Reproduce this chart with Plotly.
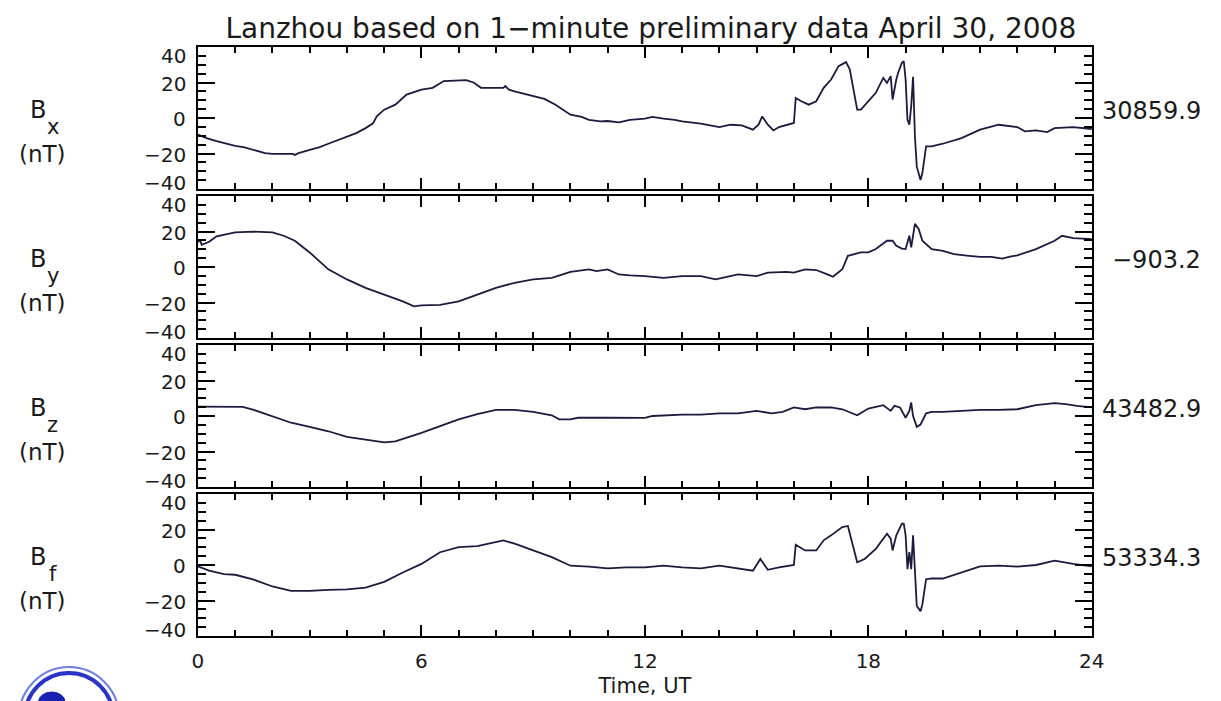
import plotly.graph_objects as go

# ---------------- data ----------------
title_text = "Lanzhou based on 1\u2212minute preliminary data April 30, 2008"
panel_names = ["x", "y", "z", "f"]
baseline_values = ["30859.9", "\u2212903.2", "43482.9", "53334.3"]
x_tick_vals = [0, 6, 12, 18, 24]
x_tick_text = ["0", "6", "12", "18", "24"]
y_tick_vals = [40, 20, 0, -20, -40]
y_tick_text = ["40", "20", "0", "\u221220", "\u221240"]

t_bx = [0, 0.25, 0.5, 0.75, 1, 1.25, 1.5, 1.8, 2, 2.3, 2.55, 2.6, 2.7, 3, 3.25, 3.5, 3.75,
        4, 4.25, 4.5, 4.7, 4.8, 5, 5.3, 5.6, 6, 6.3, 6.6, 7, 7.2, 7.4, 7.6, 8, 8.2, 8.25,
        8.35, 8.5, 9, 9.3, 9.6, 10, 10.3, 10.5, 10.8, 11, 11.3, 11.6, 12, 12.2, 12.5, 12.8,
        13, 13.5, 14, 14.3, 14.6, 14.9, 15.05, 15.15, 15.3, 15.45, 15.6, 15.8, 16, 16.05,
        16.2, 16.4, 16.6, 16.8, 17, 17.2, 17.4, 17.5, 17.6, 17.7, 17.8, 18, 18.2, 18.4, 18.5,
        18.6, 18.65, 18.75, 18.8, 18.9, 18.95, 19.0, 19.05, 19.1, 19.15, 19.2, 19.25, 19.3,
        19.4, 19.45, 19.55, 19.7, 20, 20.5, 21, 21.5, 22, 22.2, 22.5, 22.8, 23, 23.5, 24]
bx = [-9.4, -11.5, -13, -14.5, -15.7, -16.5, -18, -19.8, -20.2, -20.2, -20.2, -20.8, -19.8,
      -18, -16.5, -14.5, -12.5, -10.4, -8.5, -5.7, -3, 1, 4.7, 7.5, 13.2, 16, 17, 20.8, 21,
      21.3, 20, 17, 17, 17, 18, 16, 15, 12.3, 10.8, 7.5, 1.9, 0.6, -1, -1.9, -1.7, -2.5, -1,
      -0.4, 0.6, -0.4, -1, -1.9, -3.2, -5.1, -3.8, -4.2, -6.6, -3.8, 0.9, -3.8, -7, -5.1, -4,
      -2.8, 11.3, 9.4, 7.5, 9.4, 17, 21.7, 29.2, 31.5, 27.4, 16, 4.7, 4.7, 9.4, 14.2, 22.6,
      19.8, 23.6, 10.4, 21.7, 25.5, 31.1, 32, 21.7, -1, -3.8, 6.6, 23.2, -10.4, -27.4, -34.9,
      -31, -16, -16, -14.5, -11.3, -6.6, -3.8, -5.1, -7.5, -7, -7.9, -5.7, -5.1, -6.2]

t_by = [0, 0.05, 0.1, 0.3, 0.5, 1, 1.5, 2, 2.3, 2.6, 3, 3.5, 4, 4.5, 5, 5.5, 5.8, 6, 6.5,
        7, 7.5, 8, 8.5, 9, 9.5, 10, 10.5, 10.7, 11, 11.3, 11.6, 12, 12.5, 13, 13.5, 13.9,
        14.2, 14.5, 15, 15.3, 15.8, 16, 16.3, 16.6, 16.9, 17.05, 17.3, 17.45, 17.8, 18,
        18.2, 18.5, 18.65, 18.75, 18.9, 19.0, 19.1, 19.15, 19.25, 19.35, 19.45, 19.7, 20,
        20.3, 20.7, 21, 21.3, 21.6, 21.8, 22, 22.5, 23, 23.2, 23.5, 24]
by = [13.9, 15.5, 12.5, 14.2, 17.3, 19.5, 19.9, 19.5, 17.6, 14.8, 8.2, -1.3, -7, -11.8,
      -15.6, -19.4, -22.2, -21.6, -21.3, -19.4, -15.6, -11.8, -8.9, -7, -6.1, -2.7, -1.3,
      -2.3, -1.3, -4.2, -4.7, -5.1, -6.1, -5.1, -5.1, -7, -5.5, -4.2, -5.1, -3.2, -2.7,
      -3.2, -1.3, -1.7, -4.2, -5.5, -1.3, 6.3, 8.2, 8.2, 10.1, 14.8, 14.8, 12, 10.4, 10.1,
      17.6, 11, 24.3, 21.4, 14.8, 10.1, 9.1, 7.2, 6.3, 5.7, 5.7, 4.7, 5.9, 6.6, 10.1, 14.8,
      17.6, 16.3, 15.7]

t_bz = [0, 1, 1.2, 1.5, 2, 2.5, 3, 3.5, 4, 4.5, 5, 5.3, 5.6, 6, 6.5, 7, 7.5, 8, 8.5, 9,
        9.5, 9.7, 10, 10.2, 11, 12, 12.2, 13, 13.5, 14, 14.5, 15, 15.4, 15.7, 16.0, 16.3,
        16.6, 17, 17.3, 17.7, 18, 18.4, 18.6, 18.7, 18.85, 19.0, 19.1, 19.15, 19.2, 19.3,
        19.4, 19.55, 19.7, 20, 20.5, 21, 21.5, 22, 22.5, 23, 23.3, 23.6, 24]
bz = [5.3, 5.3, 5.1, 3.4, -0.4, -3.8, -6.1, -8.6, -11.8, -13.3, -14.9, -14.3, -12.4, -9.5,
      -5.7, -1.9, 1, 3.4, 3.4, 2.3, 0.4, -1.9, -1.9, -1, -1, -1.1, 0, 0.8, 0.8, 1.5, 1.5,
      2.9, 1.5, 2.3, 4.8, 3.8, 4.8, 4.8, 3.8, 0.4, 4.2, 6.1, 2.9, 5.7, 4.8, -1, 2.9, 7.6, 0,
      -6.1, -4.8, 1.5, 2.3, 2.3, 2.9, 3.4, 3.4, 3.8, 6.1, 7.2, 6.7, 5.7, 4.8]

t_bf = [0, 0.3, 0.7, 1, 1.5, 2, 2.5, 3, 3.5, 4, 4.5, 5, 5.5, 6, 6.5, 7, 7.5, 8, 8.2, 8.5,
        9, 9.5, 10, 10.5, 11, 11.5, 12, 12.5, 13, 13.5, 14, 14.5, 14.9, 15.1, 15.3, 15.6,
        16, 16.05, 16.3, 16.6, 16.8, 17, 17.3, 17.45, 17.6, 17.7, 17.9, 18.2, 18.5, 18.6,
        18.65, 18.75, 18.9, 18.95, 19.0, 19.05, 19.1, 19.15, 19.2, 19.25, 19.3, 19.4, 19.45,
        19.55, 19.7, 20, 20.5, 21, 21.5, 22, 22.5, 23, 23.5, 24]
bf = [-0.8, -3.2, -5.1, -5.5, -8.3, -12.1, -14.6, -14.6, -14, -13.7, -12.7, -9.5, -4.2, 0.6,
      7.2, 10.1, 10.6, 12.9, 13.9, 12, 8.2, 4.4, -0.4, -0.9, -1.9, -1.3, -1.3, -0.4, -1.3,
      -1.9, -0.4, -1.9, -3.2, 3.4, -2.7, -1.3, 0, 11.4, 8.2, 8.2, 13.9, 16.7, 21.4, 22, 10.1,
      1.5, 3.4, 9.1, 17.6, 14.8, 8.2, 16.7, 23.3, 23.3, 16.7, -2.3, 7.2, -2.3, 16.7, -8,
      -23.1, -26, -22.2, -8, -7.6, -7.6, -4.2, -0.8, -0.4, -0.9, 0, 2.5, 0.6, -0.8]

series_t = [t_bx, t_by, t_bz, t_bf]
series_v = [bx, by, bz, bf]

# ---------------- layout geometry ----------------
W, H = 1221, 701
x_left, x_right = 195, 1103
panel_pix = [(47, 189), (196, 338), (345, 487), (494, 636)]

FONT = "DejaVu Sans"
TXT = "#1a1a1a"
LINE = "#1b1b3e"

fig = go.Figure()
layout = dict(
    width=W, height=H, autosize=False,
    margin=dict(l=0, r=0, t=0, b=0),
    paper_bgcolor="white", plot_bgcolor="white",
    showlegend=False,
    font=dict(family=FONT, color=TXT),
)

annotations = []
for i in range(4):
    n = "" if i == 0 else str(i + 1)
    top, bot = panel_pix[i]
    fig.add_trace(go.Scatter(
        x=series_t[i], y=series_v[i], mode="lines",
        line=dict(color=LINE, width=1.8),
        xaxis="x" + n, yaxis="y" + n, hoverinfo="skip",
    ))
    layout["xaxis" + n] = dict(
        domain=[x_left / W, x_right / W], anchor="y" + n,
        range=[0, 24], showgrid=False, zeroline=False,
        showline=True, linecolor="black", linewidth=2, mirror="allticks",
        ticks="inside", tickmode="array", tickvals=[0, 6, 12, 18, 24],
        ticklen=11, tickwidth=1.5, tickcolor="black",
        minor=dict(dtick=1, tick0=0, ticks="inside", ticklen=6, tickwidth=1.5,
                   tickcolor="black", showgrid=False),
        showticklabels=(i == 3), fixedrange=True,
    )
    layout["yaxis" + n] = dict(
        domain=[1 - bot / H, 1 - top / H], anchor="x" + n,
        range=[-40, 40], showgrid=False, zeroline=False,
        showline=True, linecolor="black", linewidth=2, mirror="allticks",
        ticks="inside", tickmode="array", tickvals=[-40, -20, 0, 20, 40],
        ticklen=17, tickwidth=1.5, tickcolor="black",
        minor=dict(dtick=5, tick0=0, ticks="inside", ticklen=8, tickwidth=1.5,
                   tickcolor="black", showgrid=False),
        showticklabels=False, fixedrange=True,
    )
    # y tick labels (edge labels nudged inward as in the reference)
    for v, txt in zip(y_tick_vals, y_tick_text):
        shift = -9 if v == 40 else (6 if v == -40 else -1)
        annotations.append(dict(
            x=185 / W, xref="paper", xanchor="right",
            y=v, yref="y" + n, yanchor="middle", yshift=shift,
            text=txt, showarrow=False, font=dict(size=20, family=FONT, color=TXT),
        ))
    # left component label: "B" with a large, low subscript letter
    annotations.append(dict(
        x=32 / W, xref="paper", xanchor="center",
        y=0.5, yref="y" + n + " domain", yanchor="middle", yshift=8,
        text="B", showarrow=False,
        font=dict(size=24, family=FONT, color=TXT),
    ))
    annotations.append(dict(
        x=47.5 / W, xref="paper", xanchor="center",
        y=0.5, yref="y" + n + " domain", yanchor="middle", yshift=-9,
        text=panel_names[i], showarrow=False,
        font=dict(size=21, family=FONT, color=TXT),
    ))
    annotations.append(dict(
        x=37 / W, xref="paper", xanchor="center",
        y=0.5, yref="y" + n + " domain", yanchor="middle", yshift=-36,
        text="(nT)", showarrow=False,
        font=dict(size=23, family=FONT, color=TXT),
    ))
    # baseline value on the right
    annotations.append(dict(
        x=1216 / W, xref="paper", xanchor="right",
        y=0.5, yref="y" + n + " domain", yanchor="middle", yshift=7,
        text=baseline_values[i], showarrow=False,
        font=dict(size=24, family=FONT, color=TXT),
    ))

layout["xaxis4"].update(
    tickvals=x_tick_vals, ticktext=x_tick_text,
    tickfont=dict(size=20, family=FONT, color=TXT),
    ticklabelstandoff=6,
    title=dict(text="Time, UT", font=dict(size=21, family=FONT, color=TXT), standoff=6),
)

layout["title"] = dict(
    text=title_text, x=655 / W, xanchor="center", xref="paper",
    y=1 - 28 / H, yref="container", yanchor="middle",
    font=dict(size=28, family=FONT, color=TXT),
)

# logo in the lower-left corner (partially cut off by the page edge)
shapes = [
    dict(type="circle", xref="paper", yref="paper",
         x0=13 / W, x1=115 / W, y0=1 - 769 / H, y1=1 - 667 / H,
         line=dict(color="#6f7fe0", width=2), fillcolor="rgba(0,0,0,0)"),
    dict(type="circle", xref="paper", yref="paper",
         x0=19 / W, x1=109 / W, y0=1 - 763 / H, y1=1 - 673 / H,
         line=dict(color="#2a34c8", width=4), fillcolor="rgba(0,0,0,0)"),
    dict(type="circle", xref="paper", yref="paper",
         x0=33 / W, x1=60 / W, y0=1 - 712 / H, y1=1 - 692 / H,
         line=dict(color="#1a22b0", width=1), fillcolor="#1a22b0"),
]

layout["annotations"] = annotations
layout["shapes"] = shapes
fig.update_layout(**layout)
fig.write_html("out.html")
